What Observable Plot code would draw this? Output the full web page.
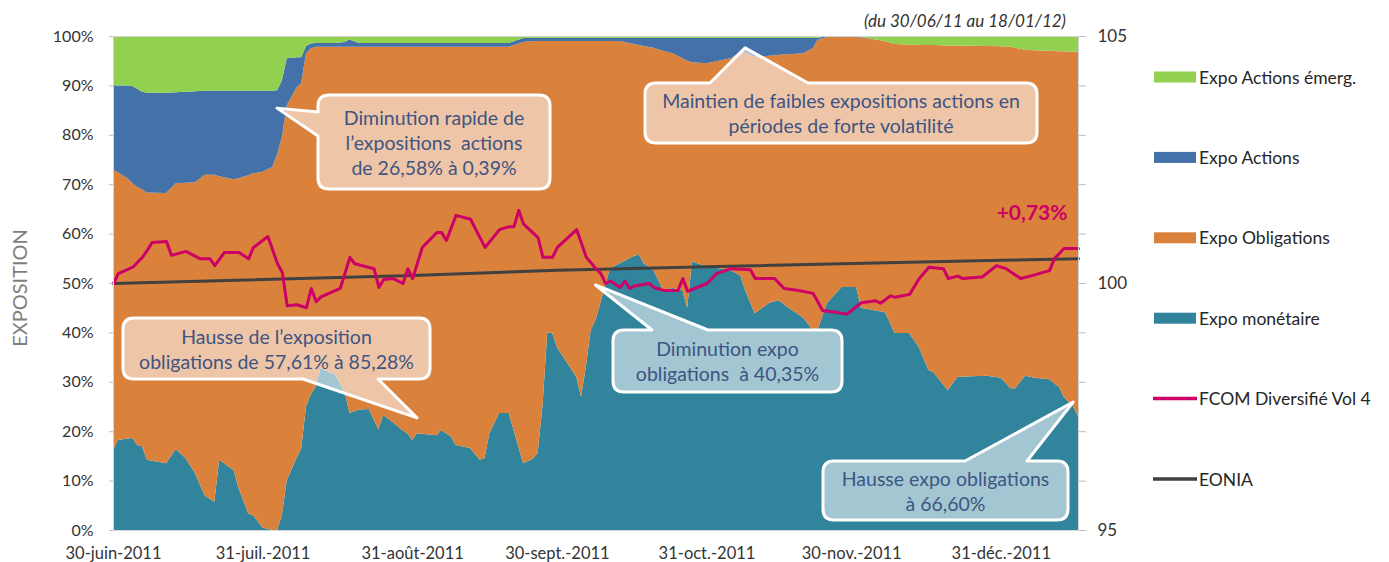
<!DOCTYPE html>
<html>
<head>
<meta charset="utf-8">
<script src="https://cdn.jsdelivr.net/npm/d3@7"></script>
<script src="https://cdn.jsdelivr.net/npm/@observablehq/plot@0.6"></script>
<style>
  html, body { margin: 0; padding: 0; background: #fff; }
  svg { display: block; }
</style>
</head>
<body>
<div id="chart"></div>
<script>
// ---------------- DATA ----------------
// Stacked exposures (% of portfolio)
const dates = [
  "2011-06-30","2011-07-01","2011-07-03","2011-07-04","2011-07-05","2011-07-06","2011-07-07","2011-07-11","2011-07-13","2011-07-15",
  "2011-07-17","2011-07-19","2011-07-21","2011-07-22","2011-07-25","2011-07-26","2011-07-28","2011-07-29","2011-07-31","2011-08-02",
  "2011-08-03","2011-08-04","2011-08-05","2011-08-07","2011-08-08","2011-08-09","2011-08-10","2011-08-11","2011-08-12","2011-08-15",
  "2011-08-17","2011-08-18","2011-08-20","2011-08-22","2011-08-24","2011-08-25","2011-08-27","2011-08-29","2011-08-30","2011-08-31",
  "2011-09-01","2011-09-05","2011-09-06","2011-09-08","2011-09-09","2011-09-12","2011-09-14","2011-09-15","2011-09-16","2011-09-18",
  "2011-09-20","2011-09-23","2011-09-25","2011-09-26","2011-09-27","2011-09-28","2011-09-29","2011-09-30","2011-10-04","2011-10-05",
  "2011-10-06","2011-10-07","2011-10-08","2011-10-10","2011-10-11","2011-10-13","2011-10-16","2011-10-17","2011-10-18","2011-10-20",
  "2011-10-22","2011-10-24","2011-10-26","2011-10-27","2011-10-28","2011-10-31","2011-11-05","2011-11-07","2011-11-08","2011-11-10",
  "2011-11-13","2011-11-15","2011-11-17","2011-11-20","2011-11-22","2011-11-23","2011-11-25","2011-11-28","2011-12-01","2011-12-02",
  "2011-12-07","2011-12-09","2011-12-12","2011-12-14","2011-12-16","2011-12-17","2011-12-20","2011-12-22","2011-12-28","2011-12-31",
  "2012-01-02","2012-01-03","2012-01-05","2012-01-07","2012-01-10","2012-01-12","2012-01-13","2012-01-15","2012-01-16"
];
const monetaire = [
  16.2,18.2,18.5,18.6,17.2,17.0,14.2,13.5,16.4,14.6,
  11.5,7.0,5.7,14.2,12.1,8.5,3.4,3.0,0.5,0.0,
  0.0,3.0,10.0,14.5,16.5,25.0,27.5,29.0,32.8,31.5,
  28.0,23.7,24.4,24.5,20.4,23.3,21.8,20.2,19.6,18.2,
  19.6,19.2,20.2,19.0,17.2,16.6,14.2,14.6,19.6,23.7,
  23.7,13.5,14.4,15.6,25.0,40.0,40.0,37.0,31.0,27.0,
  33.0,40.5,42.5,49.5,53.0,54.0,55.5,55.7,54.0,52.6,
  48.6,49.0,48.6,45.0,54.35,53.4,52.6,51.5,48.6,43.9,
  46.0,46.5,45.0,43.0,40.5,40.5,46.0,49.2,49.2,45.0,
  44.1,39.9,39.9,37.0,32.4,32.0,28.3,31.0,31.2,30.8,
  28.7,28.7,31.2,30.8,30.5,29.0,27.0,25.0,22.9
];
const obligations = [
  56.7,54.2,52.7,51.6,52.3,52.0,54.1,54.7,53.8,55.7,
  58.9,64.9,66.2,57.4,58.9,62.7,68.4,69.2,72.0,73.5,
  76.0,76.6,76.0,75.0,74.0,71.5,70.0,68.8,65.0,66.3,
  69.8,74.1,73.4,73.3,77.4,74.5,76.0,77.6,78.2,79.6,
  78.2,78.6,77.6,78.8,80.6,81.2,83.6,83.2,78.2,74.1,
  74.1,85.3,84.6,83.4,74.0,59.0,59.0,62.0,68.0,72.0,
  66.0,58.5,56.5,49.5,46.0,45.0,42.9,42.5,44.0,45.0,
  48.4,47.5,46.9,50.0,40.35,41.1,42.9,45.3,48.0,51.9,
  50.0,49.7,51.3,53.5,57.0,58.7,53.8,50.6,50.6,54.7,
  54.9,58.5,58.4,61.2,65.8,66.2,69.8,67.1,66.8,67.1,
  69.1,68.9,66.0,66.3,66.5,67.9,69.9,71.8,73.9
];
const actions = [
  17.2,17.6,18.8,19.7,19.8,19.7,20.2,20.3,18.4,18.4,
  18.4,17.0,17.0,17.3,17.9,17.7,17.1,16.7,16.4,15.4,
  13.0,11.4,9.5,6.2,5.2,1.5,1.0,0.8,0.8,0.8,
  1.0,1.5,0.8,0.8,0.8,0.8,0.8,0.8,0.8,0.8,
  0.8,0.8,0.8,0.8,0.8,0.8,0.8,0.8,0.8,0.8,
  0.8,0.8,0.6,0.6,0.6,0.6,0.6,0.6,0.6,0.6,
  0.6,0.6,0.6,0.6,0.6,0.6,1.2,1.4,1.6,2.0,
  2.6,3.1,4.1,4.6,4.9,5.1,4.1,2.8,3.0,3.8,
  3.6,3.4,3.3,3.1,2.1,0.4,0.2,0.1,0.1,0.1,
  0,0,0,0,0,0,0,0,0,0,
  0,0,0,0,0,0,0,0,0
];
const actionsEmerg = [
  9.9,10.0,10.0,10.1,10.7,11.3,11.5,11.5,11.4,11.3,
  11.2,11.1,11.1,11.1,11.1,11.1,11.1,11.1,11.1,11.1,
  11.0,9.0,4.5,4.3,4.3,2.0,1.5,1.4,1.4,1.4,
  1.2,0.7,1.4,1.4,1.4,1.4,1.4,1.4,1.4,1.4,
  1.4,1.4,1.4,1.4,1.4,1.4,1.4,1.4,1.4,1.4,
  1.4,0.4,0.4,0.4,0.4,0.4,0.4,0.4,0.4,0.4,
  0.4,0.4,0.4,0.4,0.4,0.4,0.4,0.4,0.4,0.4,
  0.4,0.4,0.4,0.4,0.4,0.4,0.4,0.4,0.4,0.4,
  0.4,0.4,0.4,0.4,0.4,0.4,0.0,0.1,0.1,0.2,
  1.0,1.6,1.7,1.8,1.8,1.8,1.9,1.9,2.0,2.1,
  2.2,2.4,2.8,2.9,3.0,3.1,3.1,3.2,3.2
];

// FCOM Diversifié Vol 4 (base 100, right axis)
const fcomDates = [
  "2011-06-30","2011-07-01","2011-07-04","2011-07-06","2011-07-07","2011-07-08","2011-07-11","2011-07-12","2011-07-15","2011-07-18",
  "2011-07-20","2011-07-21","2011-07-23","2011-07-26","2011-07-28","2011-07-29","2011-08-01","2011-08-03","2011-08-04","2011-08-05",
  "2011-08-07","2011-08-09","2011-08-10","2011-08-11","2011-08-12","2011-08-16","2011-08-18","2011-08-19","2011-08-23","2011-08-24",
  "2011-08-25","2011-08-27","2011-08-29","2011-08-30","2011-08-31","2011-09-02","2011-09-05","2011-09-06","2011-09-07","2011-09-09",
  "2011-09-12","2011-09-15","2011-09-18","2011-09-20","2011-09-21","2011-09-22","2011-09-23","2011-09-26","2011-09-27","2011-09-29",
  "2011-09-30","2011-10-04","2011-10-06","2011-10-08","2011-10-09","2011-10-10","2011-10-11","2011-10-13","2011-10-14","2011-10-15",
  "2011-10-16","2011-10-19","2011-10-20","2011-10-22","2011-10-25","2011-10-26","2011-10-27","2011-10-31","2011-11-02","2011-11-05",
  "2011-11-09","2011-11-10","2011-11-14","2011-11-16","2011-11-19","2011-11-22","2011-11-24","2011-11-26","2011-11-29","2011-12-02",
  "2011-12-05","2011-12-06","2011-12-08","2011-12-09","2011-12-12","2011-12-14","2011-12-16","2011-12-19","2011-12-20","2011-12-22",
  "2011-12-23","2011-12-27","2011-12-30","2012-01-01","2012-01-04","2012-01-06","2012-01-10","2012-01-11","2012-01-13","2012-01-16"
];
const fcomValues = [
  100.00,100.20,100.33,100.53,100.67,100.83,100.85,100.57,100.65,100.50,
  100.50,100.36,100.63,100.63,100.50,100.73,100.95,100.40,100.22,99.55,
  99.57,99.51,99.90,99.63,99.73,99.90,100.53,100.40,100.30,99.92,
  100.08,100.10,100.00,100.30,100.10,100.73,101.03,101.03,100.87,101.38,
  101.30,100.73,101.09,101.15,101.15,101.48,101.20,100.93,100.53,100.53,
  100.73,101.09,100.53,100.30,100.20,100.00,100.05,99.92,100.05,99.90,
  99.95,100.00,99.92,99.86,99.86,100.10,99.84,100.00,100.20,100.30,
  100.28,100.10,100.10,99.90,99.86,99.80,99.45,99.43,99.38,99.61,
  99.65,99.60,99.75,99.72,99.78,100.10,100.33,100.30,100.10,100.15,
  100.10,100.13,100.36,100.30,100.10,100.15,100.26,100.50,100.71,100.71
];

// EONIA (base 100, right axis)
const eoniaDates = ["2011-06-30","2011-08-31","2011-09-30","2011-10-31","2011-12-31","2012-01-16"];
const eoniaValues = [100.00,100.16,100.27,100.34,100.47,100.50];

const seriesNames = ["Expo monétaire","Expo Obligations","Expo Actions","Expo Actions émerg."];
const seriesColors = ["#31849B","#DA823C","#4472A8","#92D050"];

const xTickDates = ["2011-06-30","2011-07-31","2011-08-31","2011-09-30","2011-10-31","2011-11-30","2011-12-31"];
const xTickLabels = ["30-juin-2011","31-juil.-2011","31-août-2011","30-sept.-2011","31-oct.-2011","30-nov.-2011","31-déc.-2011"];
const yTicks = [0,10,20,30,40,50,60,70,80,90,100];
const rightTicks = [95,96,97,98,99,100,101,102,103,104,105];
const rightLabels = [95,100,105];

// ---------------- BUILD ----------------
const parse = d3.utcParse("%Y-%m-%d");
const FONT = "Lato, 'Open Sans', sans-serif";
const toPct = v => (v - 95) * 10; // right axis 95–105 mapped onto 0–100 %

const stacked = [];
dates.forEach((d, i) => {
  const t = parse(d);
  [monetaire, obligations, actions, actionsEmerg].forEach((arr, k) =>
    stacked.push({date: t, serie: seriesNames[k], value: arr[i]}));
});
const fcom = fcomDates.map((d, i) => ({date: parse(d), v: fcomValues[i]}));
const eonia = eoniaDates.map((d, i) => ({date: parse(d), v: eoniaValues[i]}));
const tickMap = new Map(xTickDates.map((d, i) => [+parse(d), xTickLabels[i]]));

const plot = Plot.plot({
  width: 1389, height: 562,
  marginTop: 36, marginRight: 311, marginBottom: 32, marginLeft: 113,
  style: {fontFamily: FONT, fontSize: "16px", color: "#333", background: "#fff", overflow: "visible"},
  x: {type: "utc", domain: [parse("2011-06-30"), parse("2012-01-16")]},
  y: {domain: [0, 100]},
  color: {domain: seriesNames, range: seriesColors},
  marks: [
    Plot.areaY(stacked, {x: "date", y: "value", fill: "serie", order: seriesNames, curve: "linear"}),
    Plot.line(eonia, {x: "date", y: d => toPct(d.v), stroke: "#404040", strokeWidth: 3}),
    Plot.line(fcom, {x: "date", y: d => toPct(d.v), stroke: "#CC0066", strokeWidth: 3, strokeLinejoin: "round"}),
    Plot.frame({stroke: "#d4d4d4"}),
    Plot.axisY({anchor: "left", ticks: yTicks, tickFormat: d => d + "%", tickSize: 4, tickPadding: 16,
      stroke: "#bcbcbc", fill: "#333", fontSize: 16, label: null}),
    Plot.axisY({anchor: "right", ticks: rightTicks.map(toPct),
      tickFormat: d => { const v = Math.round(95 + d / 10); return rightLabels.includes(v) ? String(v) : ""; },
      tickSize: 7, tickPadding: 12, stroke: "#bcbcbc", fill: "#333", fontSize: 17, label: null}),
    Plot.axisX({ticks: xTickDates.map(parse), tickFormat: d => tickMap.get(+d), tickSize: 0, tickPadding: 17,
      fill: "#333", fontSize: 16.5, label: null}),
    Plot.text([fcom[fcom.length - 1]], {x: "date", y: d => toPct(d.v), text: () => "+0,73%",
      textAnchor: "end", dx: -11, dy: -35, fill: "#CC0066", fontWeight: "bold", fontSize: 21})
  ]
});

document.getElementById("chart").appendChild(plot);

// ---------------- ANNOTATIONS ----------------
const sx = plot.scale("x"), sy = plot.scale("y");
const svg = d3.select(plot);

// Callouts: box in pixels, tip anchored to data through the scales
const callouts = [
  {lines: ["Diminution rapide de", "l’expositions  actions", "de 26,58% à 0,39%"],
   box: [318, 95, 550, 189], side: "left", base: [112, 136], tip: ["2011-08-03", 85.4]},
  {lines: ["Maintien de faibles expositions actions en", "périodes de forte volatilité"],
   box: [645, 83, 1037, 143], side: "top", base: [710, 808], tip: ["2011-11-08", 97.6]},
  {lines: ["Hausse de l’exposition", "obligations de 57,61% à 85,28%"],
   box: [123, 318, 430, 379], side: "bottom", base: [303, 378], tip: ["2011-09-01", 22.7]},
  {lines: ["Diminution expo", "obligations  à 40,35%"],
   box: [613, 330, 842, 392], side: "top", base: [652, 708], tip: ["2011-10-08", 49.6]},
  {lines: ["Hausse expo obligations", "à 66,60%"],
   box: [823, 461, 1068, 520], side: "top", base: [965, 1027], tip: ["2012-01-15", 25.9]}
];

function calloutPath(c) {
  const [x0, y0, x1, y1] = c.box, r = 11;
  const tx = sx.apply(parse(c.tip[0])), ty = sy.apply(c.tip[1]);
  const [b0, b1] = c.base;
  let p = `M${x0 + r},${y0}`;
  if (c.side === "top") p += `L${b0},${y0}L${tx},${ty}L${b1},${y0}`;
  p += `L${x1 - r},${y0}Q${x1},${y0} ${x1},${y0 + r}`;
  if (c.side === "right") p += `L${x1},${b0}L${tx},${ty}L${x1},${b1}`;
  p += `L${x1},${y1 - r}Q${x1},${y1} ${x1 - r},${y1}`;
  if (c.side === "bottom") p += `L${b1},${y1}L${tx},${ty}L${b0},${y1}`;
  p += `L${x0 + r},${y1}Q${x0},${y1} ${x0},${y1 - r}`;
  if (c.side === "left") p += `L${x0},${b1}L${tx},${ty}L${x0},${b0}`;
  p += `L${x0},${y0 + r}Q${x0},${y0} ${x0 + r},${y0}Z`;
  return p;
}

const gc = svg.append("g");
callouts.forEach(c => {
  gc.append("path").attr("d", calloutPath(c))
    .attr("fill", "rgba(255,255,255,0.55)").attr("stroke", "#fff").attr("stroke-width", 3)
    .attr("stroke-linejoin", "round");
  const cx = (c.box[0] + c.box[2]) / 2, cy = (c.box[1] + c.box[3]) / 2;
  const lh = 25, n = c.lines.length;
  c.lines.forEach((t, i) => {
    gc.append("text").attr("x", cx).attr("y", cy + (i - (n - 1) / 2) * lh)
      .attr("text-anchor", "middle").attr("dominant-baseline", "central")
      .attr("font-family", FONT).attr("font-size", 19.5).attr("fill", "#3F5482")
      .style("white-space", "pre").text(t);
  });
});

// Subtitle
svg.append("text").attr("x", 1066).attr("y", 20).attr("text-anchor", "end")
  .attr("dominant-baseline", "central").attr("font-family", FONT).attr("font-style", "italic")
  .attr("font-size", 17).attr("fill", "#333").text("(du 30/06/11 au 18/01/12)");

// Y axis title
svg.append("text").attr("transform", "translate(19,288) rotate(-90)").attr("text-anchor", "middle")
  .attr("dominant-baseline", "central").attr("font-family", FONT).attr("font-size", 20)
  .attr("fill", "#7f7f7f").text("EXPOSITION");

// Legend
const legendItems = [
  {name: "Expo Actions émerg.", type: "area", color: seriesColors[3]},
  {name: "Expo Actions", type: "area", color: seriesColors[2]},
  {name: "Expo Obligations", type: "area", color: seriesColors[1]},
  {name: "Expo monétaire", type: "area", color: seriesColors[0]},
  {name: "FCOM Diversifié Vol 4", type: "line", color: "#CC0066"},
  {name: "EONIA", type: "line", color: "#404040"}
];
const gl = svg.append("g");
legendItems.forEach((it, i) => {
  const y = 77 + i * 80.4;
  if (it.type === "area") {
    gl.append("rect").attr("x", 1154).attr("y", y - 5.5).attr("width", 42).attr("height", 11).attr("fill", it.color);
  } else {
    gl.append("line").attr("x1", 1153).attr("x2", 1197).attr("y1", y).attr("y2", y)
      .attr("stroke", it.color).attr("stroke-width", 3.5);
  }
  gl.append("text").attr("x", 1199).attr("y", y).attr("text-anchor", "start").attr("dominant-baseline", "central")
    .attr("font-family", FONT).attr("font-size", 17.5).attr("fill", "#262626").text(it.name);
});
</script>
</body>
</html>
